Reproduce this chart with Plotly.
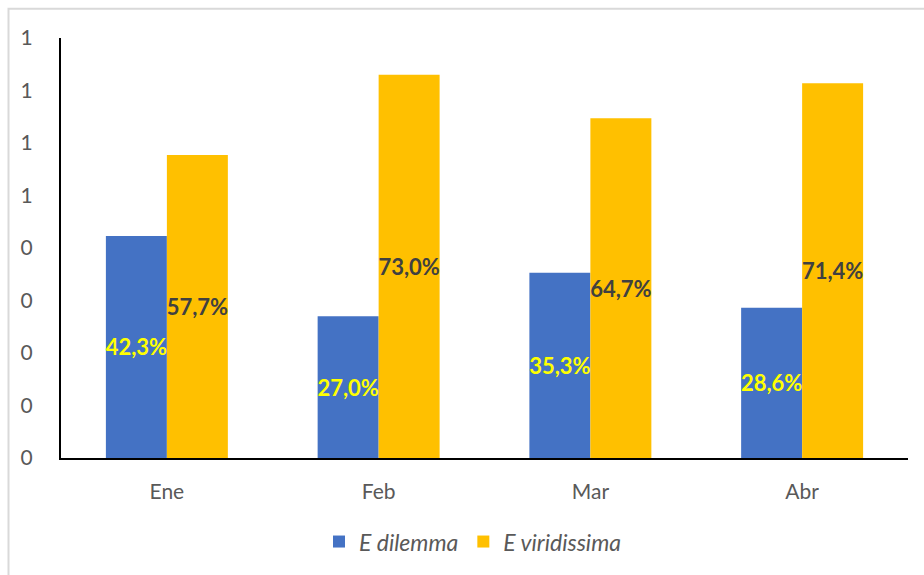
import plotly.graph_objects as go

months = ["Ene", "Feb", "Mar", "Abr"]
dilemma = [0.423, 0.270, 0.353, 0.286]
viridissima = [0.577, 0.730, 0.647, 0.714]
ytick_vals = [0, 0.1, 0.2, 0.3, 0.4, 0.5, 0.6, 0.7, 0.8]
ytick_text = ["0", "0", "0", "0", "0", "1", "1", "1", "1"]

FONT = "Lato, 'Open Sans', sans-serif"


def pct(v):
    return f"{v * 100:.1f}%".replace(".", ",")


fig = go.Figure()
fig.add_trace(go.Bar(
    x=months, y=dilemma, name="E dilemma",
    marker=dict(color="#4472C4", line=dict(width=0)),
    text=[pct(v) for v in dilemma], textposition="inside",
    insidetextanchor="middle", textangle=0,
    textfont=dict(family=FONT, size=22, color="#FFFF00", weight="bold"),
))
fig.add_trace(go.Bar(
    x=months, y=viridissima, name="E viridissima",
    marker=dict(color="#FFC000", line=dict(width=0)),
    text=[pct(v) for v in viridissima], textposition="inside",
    insidetextanchor="middle", textangle=0,
    textfont=dict(family=FONT, size=22, color="#404040", weight="bold"),
))

fig.update_layout(
    width=924, height=575,
    margin=dict(l=61, r=16, t=38, b=114),
    paper_bgcolor="white", plot_bgcolor="white",
    barmode="group", bargap=0.424, bargroupgap=0,
    uniformtext=dict(mode="show", minsize=22),
    font=dict(family=FONT, size=20, color="#595959"),
    showlegend=True,
    legend=dict(
        orientation="h", x=0.4864, xanchor="center", y=-0.199, yanchor="middle",
        font=dict(family=FONT, size=23, color="#595959", style="italic"),
        itemclick=False, traceorder="normal",
    ),
    xaxis=dict(
        showline=True, linecolor="#000000", linewidth=2,
        showgrid=False, ticks="", ticklabelstandoff=14,
        tickfont=dict(family=FONT, size=21, color="#595959"),
    ),
    yaxis=dict(
        range=[0, 0.8], tickvals=ytick_vals, ticktext=ytick_text,
        showline=True, linecolor="#000000", linewidth=2,
        showgrid=False, zeroline=False, ticks="", ticklabelstandoff=22,
        tickfont=dict(family=FONT, size=21, color="#595959"),
    ),
    shapes=[dict(
        type="rect", xref="paper", yref="paper",
        x0=(8.5 - 61) / 847, x1=(935 - 61) / 847,
        y0=-(590 - 461) / 423, y1=1 + (38 - 8.5) / 423,
        line=dict(color="#D9D9D9", width=2), fillcolor="rgba(0,0,0,0)",
        layer="below",
    )],
)

fig.write_html("out.html")
